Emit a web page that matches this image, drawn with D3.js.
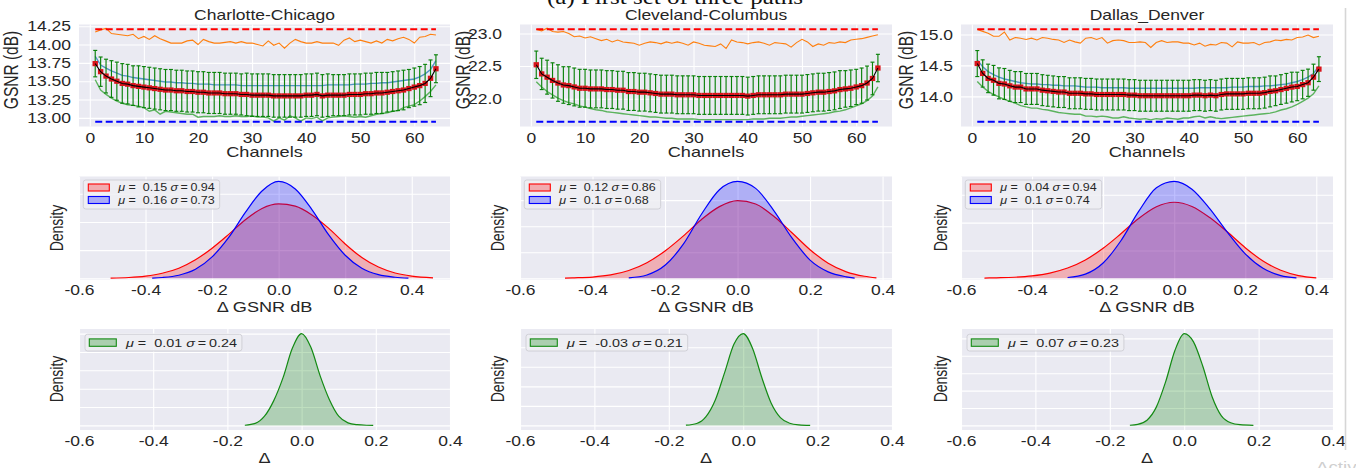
<!DOCTYPE html>
<html>
<head>
<meta charset="utf-8">
<script src="https://cdn.jsdelivr.net/npm/d3@7"></script>
<style>
  body { margin: 0; background: #fff; }
  svg { display: block; font-family: "Liberation Sans", Arial, sans-serif; }
</style>
</head>
<body>
<svg id="fig" width="1356" height="468"></svg>
<script>
// ---- data ----
const pathNames = ["Charlotte-Chicago", "Cleveland-Columbus", "Dallas_Denver"]
const channels = d3.range(1, 65)
const channelTicks = [0, 10, 20, 30, 40, 50, 60]
const deltaTicks = [-0.6, -0.4, -0.2, 0.0, 0.2, 0.4]
const gsnrTicks = [[13.0, 13.25, 13.5, 13.75, 14.0, 14.25], [22.0, 22.5, 23.0], [14.0, 14.5, 15.0]]
const upperLimit = [14.21, 23.066, 15.086]
const lowerLimit = [12.946, 21.645, 13.588]

const meanCC = [13.74, 13.63, 13.57, 13.53, 13.50, 13.47, 13.46, 13.44,
  13.43, 13.42, 13.41, 13.40, 13.39, 13.38, 13.38, 13.37,
  13.37, 13.36, 13.36, 13.35, 13.35, 13.34, 13.34, 13.34,
  13.33, 13.33, 13.33, 13.32, 13.32, 13.31, 13.31, 13.31,
  13.31, 13.30, 13.30, 13.30, 13.30, 13.30, 13.30, 13.31,
  13.31, 13.32, 13.30, 13.31, 13.31, 13.31, 13.31, 13.32,
  13.32, 13.32, 13.33, 13.33, 13.34, 13.34, 13.35, 13.36,
  13.37, 13.38, 13.40, 13.42, 13.44, 13.47, 13.54, 13.67]
const blueCC = [13.84, 13.72, 13.68, 13.64, 13.61, 13.58, 13.57, 13.55,
  13.54, 13.53, 13.52, 13.51, 13.50, 13.49, 13.49, 13.48,
  13.48, 13.47, 13.47, 13.46, 13.46, 13.46, 13.45, 13.45,
  13.45, 13.45, 13.45, 13.44, 13.44, 13.44, 13.44, 13.44,
  13.44, 13.44, 13.44, 13.44, 13.44, 13.44, 13.44, 13.44,
  13.44, 13.44, 13.44, 13.45, 13.45, 13.45, 13.45, 13.45,
  13.46, 13.46, 13.46, 13.47, 13.47, 13.48, 13.48, 13.49,
  13.50, 13.51, 13.52, 13.53, 13.56, 13.60, 13.66, 13.78]
const maxCC = [14.17, 14.20, 14.22, 14.15, 14.14, 14.13, 14.12, 14.14,
  14.08, 14.11, 14.07, 14.12, 14.08, 14.05, 14.02, 14.02,
  14.02, 14.05, 14.06, 14.00, 14.07, 14.04, 14.02, 14.02,
  14.03, 14.04, 14.02, 14.04, 14.02, 14.02, 14.00, 13.98,
  14.05, 13.99, 14.02, 13.95, 14.02, 14.07, 14.04, 14.02,
  14.02, 14.04, 14.02, 14.02, 14.02, 13.99, 14.06, 14.09,
  14.04, 14.06, 14.04, 14.02, 14.05, 14.02, 14.07, 14.05,
  14.08, 14.10, 14.07, 14.02, 14.10, 14.11, 14.14, 14.13]
const minCC = [13.52, 13.38, 13.32, 13.27, 13.23, 13.20, 13.18, 13.17,
  13.16, 13.14, 13.09, 13.11, 13.05, 13.09, 13.08, 13.07,
  13.06, 13.05, 13.05, 13.01, 13.02, 13.02, 13.02, 13.03,
  13.02, 13.02, 13.03, 13.02, 13.02, 13.03, 13.01, 13.01,
  13.00, 12.955, 13.00, 12.97, 13.03, 13.00, 12.955, 13.00,
  12.99, 13.01, 12.96, 13.00, 13.01, 13.02, 13.03, 13.02,
  13.01, 13.02, 13.01, 13.03, 13.05, 13.06, 13.07, 13.09,
  13.10, 13.14, 13.16, 13.18, 13.23, 13.29, 13.36, 13.45]
const errCC = [0.18, 0.20, 0.23, 0.25, 0.26, 0.27, 0.27, 0.27,
  0.28, 0.28, 0.28, 0.28, 0.28, 0.28, 0.28, 0.28,
  0.28, 0.28, 0.28, 0.28, 0.28, 0.28, 0.28, 0.28,
  0.28, 0.28, 0.28, 0.28, 0.29, 0.29, 0.29, 0.29,
  0.29, 0.29, 0.29, 0.29, 0.29, 0.29, 0.29, 0.29,
  0.29, 0.29, 0.29, 0.29, 0.28, 0.28, 0.28, 0.28,
  0.28, 0.28, 0.28, 0.28, 0.28, 0.28, 0.27, 0.27,
  0.27, 0.27, 0.26, 0.26, 0.26, 0.26, 0.25, 0.19]

const meanCL = [22.52, 22.38, 22.33, 22.28, 22.24, 22.21, 22.20, 22.18,
  22.16, 22.16, 22.15, 22.15, 22.15, 22.14, 22.14, 22.13,
  22.13, 22.11, 22.11, 22.10, 22.10, 22.09, 22.08, 22.07,
  22.07, 22.07, 22.06, 22.06, 22.06, 22.06, 22.05, 22.05,
  22.05, 22.05, 22.05, 22.05, 22.05, 22.05, 22.05, 22.04,
  22.05, 22.06, 22.06, 22.06, 22.06, 22.06, 22.07, 22.07,
  22.07, 22.07, 22.08, 22.09, 22.10, 22.10, 22.11, 22.12,
  22.14, 22.15, 22.16, 22.18, 22.20, 22.24, 22.31, 22.47]
const maxCL = [23.06, 23.04, 23.08, 23.03, 23.02, 23.03, 23.00, 22.95,
  22.96, 22.93, 22.95, 22.92, 22.89, 22.91, 22.87, 22.90,
  22.87, 22.86, 22.85, 22.82, 22.85, 22.87, 22.86, 22.84,
  22.87, 22.85, 22.87, 22.85, 22.82, 22.87, 22.85, 22.82,
  22.81, 22.80, 22.84, 22.77, 22.90, 22.87, 22.86, 22.84,
  22.86, 22.87, 22.85, 22.82, 22.86, 22.85, 22.84, 22.79,
  22.86, 22.91, 22.87, 22.80, 22.84, 22.82, 22.86, 22.85,
  22.87, 22.86, 22.90, 22.91, 22.92, 22.94, 22.96, 22.98]
const minCL = [22.26, 22.18, 22.11, 22.06, 22.01, 21.97, 21.94, 21.92,
  21.89, 21.87, 21.85, 21.83, 21.82, 21.80, 21.79, 21.78,
  21.77, 21.76, 21.75, 21.74, 21.73, 21.72, 21.72, 21.71,
  21.70, 21.70, 21.69, 21.69, 21.69, 21.69, 21.68, 21.68,
  21.68, 21.68, 21.68, 21.68, 21.68, 21.68, 21.68, 21.68,
  21.69, 21.69, 21.69, 21.70, 21.70, 21.70, 21.71, 21.72,
  21.72, 21.73, 21.74, 21.75, 21.76, 21.77, 21.78, 21.80,
  21.81, 21.83, 21.86, 21.89, 21.92, 21.97, 22.04, 22.18]
const errCL = [0.21, 0.24, 0.26, 0.27, 0.28, 0.28, 0.29, 0.29,
  0.29, 0.29, 0.29, 0.29, 0.29, 0.29, 0.29, 0.29,
  0.29, 0.29, 0.29, 0.29, 0.29, 0.29, 0.29, 0.29,
  0.29, 0.29, 0.29, 0.29, 0.29, 0.29, 0.29, 0.29,
  0.29, 0.29, 0.29, 0.29, 0.29, 0.29, 0.29, 0.29,
  0.29, 0.29, 0.29, 0.29, 0.29, 0.29, 0.29, 0.29,
  0.29, 0.29, 0.29, 0.29, 0.29, 0.29, 0.29, 0.29,
  0.29, 0.28, 0.28, 0.27, 0.27, 0.26, 0.25, 0.21]

const meanDD = [14.53, 14.37, 14.29, 14.26, 14.21, 14.20, 14.17, 14.15,
  14.15, 14.12, 14.12, 14.12, 14.10, 14.09, 14.08, 14.07,
  14.07, 14.05, 14.05, 14.05, 14.04, 14.04, 14.03, 14.03,
  14.03, 14.03, 14.03, 14.03, 14.02, 14.02, 14.01, 14.01,
  14.01, 14.01, 14.01, 14.01, 14.01, 14.01, 14.01, 14.01,
  14.02, 14.02, 14.01, 14.02, 14.01, 14.03, 14.04, 14.04,
  14.04, 14.04, 14.05, 14.05, 14.05, 14.06, 14.08, 14.09,
  14.11, 14.13, 14.15, 14.16, 14.19, 14.22, 14.31, 14.44]
const blueDD = [14.59, 14.48, 14.40, 14.35, 14.31, 14.28, 14.26, 14.24,
  14.22, 14.21, 14.20, 14.20, 14.19, 14.19, 14.18, 14.18,
  14.17, 14.17, 14.17, 14.16, 14.15, 14.15, 14.15, 14.14,
  14.14, 14.14, 14.14, 14.14, 14.13, 14.13, 14.13, 14.13,
  14.13, 14.13, 14.13, 14.13, 14.13, 14.13, 14.13, 14.13,
  14.13, 14.14, 14.14, 14.14, 14.14, 14.14, 14.14, 14.15,
  14.15, 14.15, 14.16, 14.16, 14.16, 14.17, 14.17, 14.18,
  14.19, 14.20, 14.22, 14.24, 14.27, 14.31, 14.37, 14.49]
const maxDD = [15.08, 15.05, 15.02, 14.97, 14.97, 15.04, 14.91, 14.95,
  14.94, 14.92, 14.94, 14.91, 14.95, 14.94, 14.92, 14.91,
  14.87, 14.91, 14.88, 14.86, 14.94, 14.95, 14.92, 14.95,
  14.86, 14.90, 14.91, 14.90, 14.87, 14.87, 14.88, 14.87,
  14.79, 14.87, 14.90, 14.87, 14.88, 14.88, 14.86, 14.86,
  14.83, 14.86, 14.81, 14.84, 14.83, 14.87, 14.86, 14.80,
  14.88, 14.86, 14.86, 14.87, 14.83, 14.87, 14.88, 14.91,
  14.90, 14.92, 14.91, 14.95, 14.96, 14.99, 14.95, 14.97]
const minDD = [14.24, 14.15, 14.08, 14.03, 13.99, 13.95, 13.92, 13.89,
  13.85, 13.83, 13.81, 13.81, 13.79, 13.78, 13.76, 13.74,
  13.73, 13.72, 13.71, 13.71, 13.68, 13.68, 13.67, 13.68,
  13.67, 13.65, 13.65, 13.67, 13.65, 13.64, 13.63, 13.64,
  13.62, 13.64, 13.63, 13.65, 13.64, 13.63, 13.65, 13.65,
  13.67, 13.68, 13.65, 13.67, 13.65, 13.64, 13.65, 13.66,
  13.67, 13.68, 13.69, 13.70, 13.71, 13.72, 13.73, 13.75,
  13.78, 13.80, 13.83, 13.87, 13.92, 13.97, 14.04, 14.17]
const errDD = [0.21, 0.22, 0.23, 0.24, 0.25, 0.25, 0.25, 0.25,
  0.25, 0.25, 0.25, 0.25, 0.25, 0.25, 0.25, 0.25,
  0.25, 0.25, 0.25, 0.25, 0.25, 0.25, 0.25, 0.25,
  0.25, 0.25, 0.25, 0.25, 0.25, 0.25, 0.25, 0.25,
  0.25, 0.25, 0.25, 0.25, 0.25, 0.25, 0.25, 0.25,
  0.25, 0.25, 0.25, 0.25, 0.25, 0.25, 0.25, 0.25,
  0.25, 0.25, 0.25, 0.25, 0.25, 0.25, 0.25, 0.24,
  0.24, 0.24, 0.24, 0.23, 0.23, 0.22, 0.21, 0.20]

// density curves, [delta, density]
const kdeRedCC = [[-0.505, 0.01], [-0.45, 0.03], [-0.40, 0.08], [-0.35, 0.18], [-0.30, 0.36], [-0.25, 0.66],
  [-0.20, 1.07], [-0.15, 1.56], [-0.10, 2.08], [-0.05, 2.48], [0.00, 2.64], [0.05, 2.56], [0.10, 2.25],
  [0.15, 1.78], [0.20, 1.22], [0.25, 0.74], [0.30, 0.40], [0.35, 0.19], [0.40, 0.08], [0.464, 0.02]]
const kdeBlueCC = [[-0.38, 0.01], [-0.35, 0.03], [-0.30, 0.11], [-0.25, 0.32], [-0.20, 0.76], [-0.15, 1.45],
  [-0.10, 2.34], [-0.05, 3.10], [0.00, 3.44], [0.05, 3.17], [0.10, 2.44], [0.15, 1.55], [0.20, 0.82],
  [0.25, 0.36], [0.30, 0.13], [0.35, 0.04], [0.39, 0.01]]
const kdeRedCL = [[-0.476, 0.01], [-0.45, 0.02], [-0.40, 0.05], [-0.35, 0.13], [-0.30, 0.30], [-0.25, 0.60],
  [-0.20, 1.05], [-0.15, 1.62], [-0.10, 2.25], [-0.05, 2.75], [0.00, 2.98], [0.05, 2.85], [0.10, 2.38],
  [0.15, 1.75], [0.20, 1.10], [0.25, 0.58], [0.30, 0.25], [0.35, 0.08], [0.383, 0.02]]
const kdeBlueCL = [[-0.30, 0.02], [-0.25, 0.13], [-0.20, 0.50], [-0.15, 1.30], [-0.10, 2.45], [-0.05, 3.40],
  [0.00, 3.72], [0.05, 3.45], [0.10, 2.60], [0.15, 1.55], [0.20, 0.70], [0.25, 0.25], [0.30, 0.06], [0.323, 0.01]]
const kdeRedDD = [[-0.534, 0.01], [-0.50, 0.02], [-0.45, 0.04], [-0.40, 0.09], [-0.35, 0.19], [-0.30, 0.37],
  [-0.25, 0.66], [-0.20, 1.08], [-0.15, 1.60], [-0.10, 2.15], [-0.05, 2.57], [0.00, 2.73], [0.05, 2.58],
  [0.10, 2.18], [0.15, 1.66], [0.20, 1.10], [0.25, 0.62], [0.30, 0.29], [0.35, 0.10], [0.40, 0.02]]
const kdeBlueDD = [[-0.30, 0.03], [-0.25, 0.15], [-0.20, 0.55], [-0.15, 1.35], [-0.10, 2.40], [-0.05, 3.25],
  [0.00, 3.48], [0.05, 3.20], [0.10, 2.50], [0.15, 1.65], [0.20, 0.88], [0.25, 0.36], [0.30, 0.10], [0.344, 0.02]]
const kdeDiffCC = [[-0.153, 0.02], [-0.125, 0.22], [-0.10, 1.0], [-0.075, 2.7], [-0.05, 5.2], [-0.025, 8.4],
  [0.0, 10.0], [0.025, 8.5], [0.05, 5.4], [0.075, 2.8], [0.10, 1.0], [0.125, 0.28], [0.15, 0.08],
  [0.175, 0.02], [0.193, 0.01]]
const kdeDiffCL = [[-0.154, 0.02], [-0.125, 0.2], [-0.10, 0.9], [-0.075, 2.6], [-0.05, 5.4], [-0.025, 8.3],
  [0.0, 9.4], [0.025, 7.9], [0.05, 4.9], [0.075, 2.3], [0.10, 0.8], [0.125, 0.22], [0.15, 0.06], [0.18, 0.01]]
const kdeDiffDD = [[-0.146, 0.02], [-0.125, 0.12], [-0.10, 0.6], [-0.075, 2.1], [-0.05, 5.0], [-0.025, 8.6],
  [0.0, 10.55], [0.025, 9.6], [0.05, 6.8], [0.075, 3.3], [0.10, 1.1], [0.125, 0.3], [0.15, 0.08], [0.186, 0.01]]

const legendRed = [["0.15", "0.94"], ["0.12", "0.86"], ["0.04", "0.94"]]
const legendBlue = [["0.16", "0.73"], ["0.1", "0.68"], ["0.1", "0.74"]]
const legendDiff = [["0.01", "0.24"], ["-0.03", "0.21"], ["0.07", "0.23"]]

// ---- layout ----
const K = 1.25 // the source picture is stretched sideways
const cols = [[79, 450], [520, 892], [961, 1333]]
const rowTop = [24.5, 126.5]
const rowMid = [176.5, 280]
const rowBot = [329, 430]
const ink = "#262626"
const svg = d3.select("#fig")

function txt(g, x, y, s, size, o = {}) {
  const t = g.append("text")
    .attr("transform", `translate(${x},${y}) scale(${K},1)` + (o.rotate ? " rotate(-90)" : ""))
    .attr("text-anchor", o.anchor || "middle")
    .attr("font-size", size)
    .attr("fill", o.color || ink)
    .text(s)
  if (o.dy) t.attr("dy", o.dy)
  if (o.family) t.attr("font-family", o.family)
  return t
}

function panel(ci, row, x, y, xTicks, xFmt, yTicks, yFmt, tickY, yGap) {
  const [x0, x1] = cols[ci]
  const [y0, y1] = row
  const g = svg.append("g")
  g.append("rect")
    .attr("x", x0).attr("y", y0)
    .attr("width", x1 - x0).attr("height", y1 - y0)
    .attr("fill", "#eaeaf2")

  const ax = g.append("g")
    .attr("transform", `translate(0,${y1})`)
    .call(d3.axisBottom(x).tickValues(xTicks).tickSize(-(y1 - y0)).tickFormat(xFmt))
  ax.attr("font-size", 14).attr("font-family", null)
  ax.select(".domain").remove()
  ax.selectAll(".tick line").attr("stroke", "#fff").attr("stroke-width", 1.1)
  ax.selectAll(".tick text")
    .attr("y", tickY).attr("dy", null)
    .attr("fill", ink)
    .attr("transform", `scale(${K},1)`)

  const ay = g.append("g")
    .attr("transform", `translate(${x0},0)`)
    .call(d3.axisLeft(y).tickValues(yTicks).tickSize(-(x1 - x0)).tickFormat(yFmt || (() => "")))
  ay.attr("font-size", 14).attr("font-family", null)
  ay.select(".domain").remove()
  ay.selectAll(".tick line").attr("stroke", "#fff").attr("stroke-width", 1.1)
  if (yFmt) {
    ay.selectAll(".tick text")
      .attr("x", -yGap / K).attr("dy", "0.34em")
      .attr("fill", ink)
      .attr("transform", `scale(${K},1)`)
  } else {
    ay.selectAll(".tick text").remove()
  }
  return g
}

function legendLabel(t, mu, sigma) {
  t.append("tspan").attr("font-style", "italic").text("μ")
  t.append("tspan").text("\u00a0=\u00a0\u00a0" + mu + "\u00a0")
  t.append("tspan").attr("font-style", "italic").text("σ")
  t.append("tspan").text("\u2009=\u2009" + sigma)
}

function legend(g, bx, by, items, o) {
  const box = g.append("rect")
  let w = 0
  items.forEach((it, i) => {
    const cy = by + o.first + o.step * i
    g.append("rect")
      .attr("x", bx + o.swX).attr("y", cy - o.swH / 2)
      .attr("width", o.swW).attr("height", o.swH)
      .attr("fill", it.fill).attr("stroke", it.color).attr("stroke-width", 1.1)
    const t = g.append("text")
      .attr("transform", `translate(${bx + o.textX},${cy}) scale(${K},1)`)
      .attr("dy", "0.35em")
      .attr("font-size", o.size)
      .attr("fill", ink)
    legendLabel(t, it.mu, it.sigma)
    w = Math.max(w, t.node().getComputedTextLength() * K)
  })
  box.attr("x", bx).attr("y", by)
    .attr("width", o.textX + w + 5).attr("height", o.h)
    .attr("rx", 2.5)
    .attr("fill", "#eeeef3").attr("fill-opacity", 0.85)
    .attr("stroke", "#cdcdd4").attr("stroke-width", 0.9)
}

// ---- top row: GSNR per channel ----
const topMean = [meanCC, meanCL, meanDD]
const topMax = [maxCC, maxCL, maxDD]
const topMin = [minCC, minCL, minDD]
const topBlue = [blueCC, null, blueDD]
const topErr = [errCC, errCL, errDD]
const yTickGap = [8, 18, 8]
const yLabelX = [11, 463, 906]

pathNames.forEach((name, i) => {
  const [x0, x1] = cols[i]
  const pad = (upperLimit[i] - lowerLimit[i]) * 0.05
  const x = d3.scaleLinear().domain([-2, 66.6]).range([x0, x1])
  const y = d3.scaleLinear().domain([lowerLimit[i] - pad, upperLimit[i] + pad]).range([rowTop[1], rowTop[0]])
  const fmt = i === 0 ? d3.format(".2f") : d3.format(".1f")
  const g = panel(i, rowTop, x, y, channelTicks, d3.format("d"), gsnrTicks[i], fmt, 16.5, yTickGap[i])
  const line = d3.line().x((d, j) => x(channels[j])).y(d => y(d))

  g.append("path").attr("d", line(topMax[i]))
    .attr("fill", "none").attr("stroke", "#ff7f0e").attr("stroke-width", 1.1)
  if (topBlue[i]) {
    g.append("path").attr("d", line(topBlue[i]))
      .attr("fill", "none").attr("stroke", "#1f77b4").attr("stroke-opacity", 0.75).attr("stroke-width", 1.4)
  }
  g.append("path").attr("d", line(topMin[i]))
    .attr("fill", "none").attr("stroke", "#2ca02c").attr("stroke-opacity", 0.75).attr("stroke-width", 1.4)

  const eb = g.append("g").attr("stroke", "#0a820a").attr("stroke-width", 1.15)
  channels.forEach((c, j) => {
    const cx = x(c)
    const lo = y(topMean[i][j] - topErr[i][j])
    const hi = y(topMean[i][j] + topErr[i][j])
    eb.append("line").attr("x1", cx).attr("x2", cx).attr("y1", lo).attr("y2", hi)
    eb.append("line").attr("x1", cx - 2).attr("x2", cx + 2).attr("y1", lo).attr("y2", lo)
    eb.append("line").attr("x1", cx - 2).attr("x2", cx + 2).attr("y1", hi).attr("y2", hi)
  })

  g.append("g").selectAll("rect")
    .data(topMean[i])
    .join("rect")
    .attr("x", (d, j) => x(channels[j]) - 2.7)
    .attr("y", d => y(d) - 2.6)
    .attr("width", 5.4).attr("height", 5.2)
    .attr("fill", "#d8141a")
  g.append("path").attr("d", line(topMean[i]))
    .attr("fill", "none").attr("stroke", "#000").attr("stroke-width", 1.1)

  const limits = [[upperLimit[i], "#ff0000"], [lowerLimit[i], "#0000ff"]]
  limits.forEach(([v, c]) => {
    g.append("line")
      .attr("x1", x(1)).attr("x2", x(64))
      .attr("y1", y(v)).attr("y2", y(v))
      .attr("stroke", c).attr("stroke-width", 2)
      .attr("stroke-dasharray", "7,3.5")
  })

  txt(g, (x0 + x1) / 2, 20, name, 14)
  txt(g, (x0 + x1) / 2, 156.5, "Channels", 14.5)
  txt(g, yLabelX[i], 70, "GSNR (dB)", 15.5, { rotate: true, dy: "0.35em" })
})

// ---- middle row: GSNR error densities ----
const midRed = [kdeRedCC, kdeRedCL, kdeRedDD]
const midBlue = [kdeBlueCC, kdeBlueCL, kdeBlueDD]
const midRight = [0.515, 0.426, 0.447]
const densLabelX = [57, 498, 941]

function drawKde(g, x, y, pts, color, fill) {
  const area = d3.area().x(d => x(d[0])).y0(y(0)).y1(d => y(d[1])).curve(d3.curveMonotoneX)
  const line = d3.line().x(d => x(d[0])).y(d => y(d[1])).curve(d3.curveMonotoneX)
  g.append("path").attr("d", area(pts)).attr("fill", fill).attr("fill-opacity", 0.25)
  g.append("path").attr("d", line(pts)).attr("fill", "none").attr("stroke", color).attr("stroke-width", 1.2)
}

const tickFmt = d => d.toFixed(1)

midRed.forEach((red, i) => {
  const [x0, x1] = cols[i]
  const peak = d3.max(red.concat(midBlue[i]), d => d[1])
  const x = d3.scaleLinear().domain([-0.6, midRight[i]]).range([x0, x1])
  const y = d3.scaleLinear().domain([-0.017 * peak, 1.05 * peak]).range([rowMid[1], rowMid[0]])
  const g = panel(i, rowMid, x, y, deltaTicks, tickFmt, y.ticks(4).filter(t => t >= 0), null, 15, 0)
  drawKde(g, x, y, red, "#ff0000", "#ff0000")
  drawKde(g, x, y, midBlue[i], "#0000ff", "#0000ff")
  legend(g, x0 + 4.3, rowMid[0] + 3.5, [
    { mu: legendRed[i][0], sigma: legendRed[i][1], color: "#ff0000", fill: "rgba(255,0,0,0.28)" },
    { mu: legendBlue[i][0], sigma: legendBlue[i][1], color: "#0000ff", fill: "rgba(0,0,255,0.28)" }
  ], { first: 7.5, step: 12.5, swX: 5, swW: 21, swH: 7, textX: 35, size: 10, h: 29 })
  txt(g, (x0 + x1) / 2, 311.5, "Δ GSNR dB", 14.5)
  txt(g, densLabelX[i], 228, "Density", 14, { rotate: true, dy: "0.35em" })
})

// ---- bottom row: difference densities ----
const botKde = [kdeDiffCC, kdeDiffCL, kdeDiffDD]

botKde.forEach((pts, i) => {
  const [x0, x1] = cols[i]
  const peak = d3.max(pts, d => d[1])
  const x = d3.scaleLinear().domain([-0.6, 0.4]).range([x0, x1])
  const y = d3.scaleLinear().domain([-0.05 * peak, 1.05 * peak]).range([rowBot[1], rowBot[0]])
  const g = panel(i, rowBot, x, y, deltaTicks, tickFmt, y.ticks(5).filter(t => t >= 0), null, 16.5, 0)
  drawKde(g, x, y, pts, "#138a13", "#008000")
  legend(g, x0 + 6, rowBot[0] + 5.3, [
    { mu: legendDiff[i][0], sigma: legendDiff[i][1], color: "#138a13", fill: "rgba(0,128,0,0.28)" }
  ], { first: 8.3, step: 0, swX: 4.3, swW: 27, swH: 7.4, textX: 41, size: 11.5, h: 16.7 })
  txt(g, (x0 + x1) / 2, 463, "Δ", 14.5)
  txt(g, densLabelX[i], 379, "Density", 14, { rotate: true, dy: "0.35em" })
})

// ---- figure caption (cut off at the top, as in the source) and page edge ----
txt(svg, 675, 4, "(a) First set of three paths", 20, { family: "'Liberation Serif', 'Times New Roman', serif", color: "#111" })
svg.append("line")
  .attr("x1", 1345.5).attr("x2", 1345.5).attr("y1", 8).attr("y2", 450)
  .attr("stroke", "#d6d6d6").attr("stroke-width", 1.6)
txt(svg, 1316, 472, "Activate", 15, { anchor: "start", color: "#cfcfcf" })
</script>
</body>
</html>
